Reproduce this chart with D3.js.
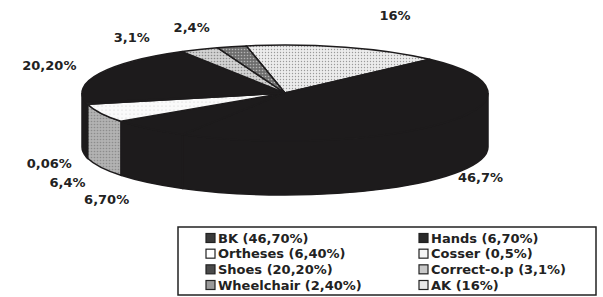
<!DOCTYPE html>
<html>
<head>
<meta charset="utf-8">
<script src="https://cdn.jsdelivr.net/npm/d3@7"></script>
<style>
  body { margin: 0; background: #fff; }
  svg { display: block; }
  text { font-family: "DejaVu Sans", Arial, sans-serif; font-weight: bold; fill: #222; }
</style>
</head>
<body>
<div id="chart"></div>
<script>
// slices, clockwise from the top
var categories = ["AK", "BK", "Hands", "Ortheses", "Cosser", "Shoes", "Correct-o.p", "Wheelchair"]
var values = [16, 46.7, 6.7, 6.4, 0.5, 20.2, 3.1, 2.4]
var sliceLabels = ["16%", "46,7%", "6,70%", "6,4%", "0,06%", "20,20%", "3,1%", "2,4%"]

// legend, read row by row (two columns)
var legendKeys = ["BK", "Hands", "Ortheses", "Cosser", "Shoes", "Correct-o.p", "Wheelchair", "AK"]
var legendLabels = ["BK (46,70%)", "Hands (6,70%)", "Ortheses (6,40%)", "Cosser (0,5%)",
	"Shoes (20,20%)", "Correct-o.p (3,1%)", "Wheelchair (2,40%)", "AK (16%)"]

var width = 603
var height = 297
var cx = 285, cy = 93, rx = 203, ry = 48, depth = 54
var dark = "#1d1b1c"

var svg = d3.select("#chart").append("svg")
	.attr("width", width)
	.attr("height", height)

// dotted fills like the scanned print
var defs = svg.append("defs")
function dots(id, bg, dot, step, r) {
	var p = defs.append("pattern")
		.attr("id", id)
		.attr("patternUnits", "userSpaceOnUse")
		.attr("width", step).attr("height", step)
	p.append("rect").attr("width", step).attr("height", step).attr("fill", bg)
	p.append("circle").attr("cx", step / 2).attr("cy", step / 2).attr("r", r).attr("fill", dot)
}
dots("pLight", "#ececec", "#9a9a9a", 3, 0.7)
dots("pMid", "#d2d2d2", "#8a8a8a", 3, 0.8)
dots("pDark", "#6e6e6e", "#b4b4b4", 3, 0.8)
dots("pWhite", "#fafafa", "#d0d0d0", 4, 0.6)
dots("pSide", "#b2b2b2", "#8c8c8c", 3, 0.8)

var topFill = {
	"AK": "url(#pLight)", "BK": dark, "Hands": dark, "Ortheses": "url(#pWhite)",
	"Cosser": "#d8d8d8", "Shoes": dark, "Correct-o.p": "url(#pMid)", "Wheelchair": "url(#pDark)"
}
var sideFill = {
	"AK": "#aaa", "BK": dark, "Hands": dark, "Ortheses": "url(#pSide)",
	"Cosser": "#888", "Shoes": dark, "Correct-o.p": "#999", "Wheelchair": "#555"
}
var legendFill = {
	"AK": "#e8e8e8", "BK": "#3a3a3a", "Hands": "#2a2a2a", "Ortheses": "#fff",
	"Cosser": "#f4f4f4", "Shoes": "#4a4a4a", "Correct-o.p": "#c8c8c8", "Wheelchair": "#9a9a9a"
}

var data = categories.map(function (c, i) {
	return { name: c, value: values[i], label: sliceLabels[i] }
})

var start = -11 * Math.PI / 180
var pie = d3.pie()
	.sort(null)
	.value(function (d) { return d.value })
	.startAngle(start)
	.endAngle(start + 2 * Math.PI)
var arcs = pie(data)

function px(a) { return cx + rx * Math.sin(a) }
function py(a) { return cy - ry * Math.cos(a) }

function topPath(d) {
	var large = (d.endAngle - d.startAngle) > Math.PI ? 1 : 0
	return "M" + cx + "," + cy +
		"L" + px(d.startAngle) + "," + py(d.startAngle) +
		"A" + rx + "," + ry + " 0 " + large + " 1 " + px(d.endAngle) + "," + py(d.endAngle) + "Z"
}

// outer wall, only the front half (90..270 deg) shows
function sidePath(d) {
	var s = Math.max(d.startAngle, Math.PI / 2)
	var e = Math.min(d.endAngle, 3 * Math.PI / 2)
	if (e <= s) return null
	return "M" + px(s) + "," + py(s) +
		"A" + rx + "," + ry + " 0 0 1 " + px(e) + "," + py(e) +
		"L" + px(e) + "," + (py(e) + depth) +
		"A" + rx + "," + ry + " 0 0 0 " + px(s) + "," + (py(s) + depth) + "Z"
}

var g = svg.append("g")

g.selectAll("path.side")
	.data(arcs.filter(function (d) { return sidePath(d) !== null }))
	.enter().append("path")
	.attr("class", "side")
	.attr("d", sidePath)
	.attr("fill", function (d) { return sideFill[d.data.name] })
	.attr("stroke", dark)
	.attr("stroke-width", 1.5)

g.selectAll("path.top")
	.data(arcs)
	.enter().append("path")
	.attr("class", "top")
	.attr("d", topPath)
	.attr("fill", function (d) { return topFill[d.data.name] })
	.attr("stroke", dark)
	.attr("stroke-width", 1.5)
	.attr("stroke-linejoin", "round")

// label distance factors (x, y) per slice, tuned to the print
var labelK = {
	"AK": [1.83, 1.7], "BK": [1.22, 1.02], "Hands": [1.31, 1.48], "Ortheses": [1.18, 1.77],
	"Cosser": [1.19, 1.6], "Shoes": [1.27, 1.43], "Correct-o.p": [1.79, 1.29], "Wheelchair": [1.75, 1.42]
}

g.selectAll("text.pct")
	.data(arcs)
	.enter().append("text")
	.attr("class", "pct")
	.attr("x", function (d) {
		var a = (d.startAngle + d.endAngle) / 2
		return cx + rx * labelK[d.data.name][0] * Math.sin(a)
	})
	.attr("y", function (d) {
		var a = (d.startAngle + d.endAngle) / 2
		var c = Math.cos(a)
		return cy - ry * labelK[d.data.name][1] * c + (c < 0 ? depth : 0)
	})
	.attr("dy", "0.36em")
	.attr("text-anchor", "middle")
	.style("font-size", "13px")
	.text(function (d) { return d.data.label })

// legend box
var lg = svg.append("g")
lg.append("rect")
	.attr("x", 178).attr("y", 227)
	.attr("width", 418).attr("height", 68)
	.attr("fill", "#fff")
	.attr("stroke", "#222")
	.attr("stroke-width", 1.5)

var col = d3.scalePoint().domain([0, 1]).range([206, 419])
var row = d3.scalePoint().domain([0, 1, 2, 3]).range([238, 285])

var items = lg.selectAll("g.item")
	.data(legendKeys)
	.enter().append("g")
	.attr("class", "item")
	.attr("transform", function (d, i) {
		return "translate(" + col(i % 2) + "," + row(Math.floor(i / 2)) + ")"
	})

items.append("rect")
	.attr("x", 0).attr("y", -4.5)
	.attr("width", 9).attr("height", 9)
	.attr("fill", function (d) { return legendFill[d] })
	.attr("stroke", "#222")
	.attr("stroke-width", 1.2)

items.append("text")
	.attr("x", 12)
	.attr("dy", "0.36em")
	.style("font-size", "13px")
	.text(function (d, i) { return legendLabels[i] })
</script>
</body>
</html>
